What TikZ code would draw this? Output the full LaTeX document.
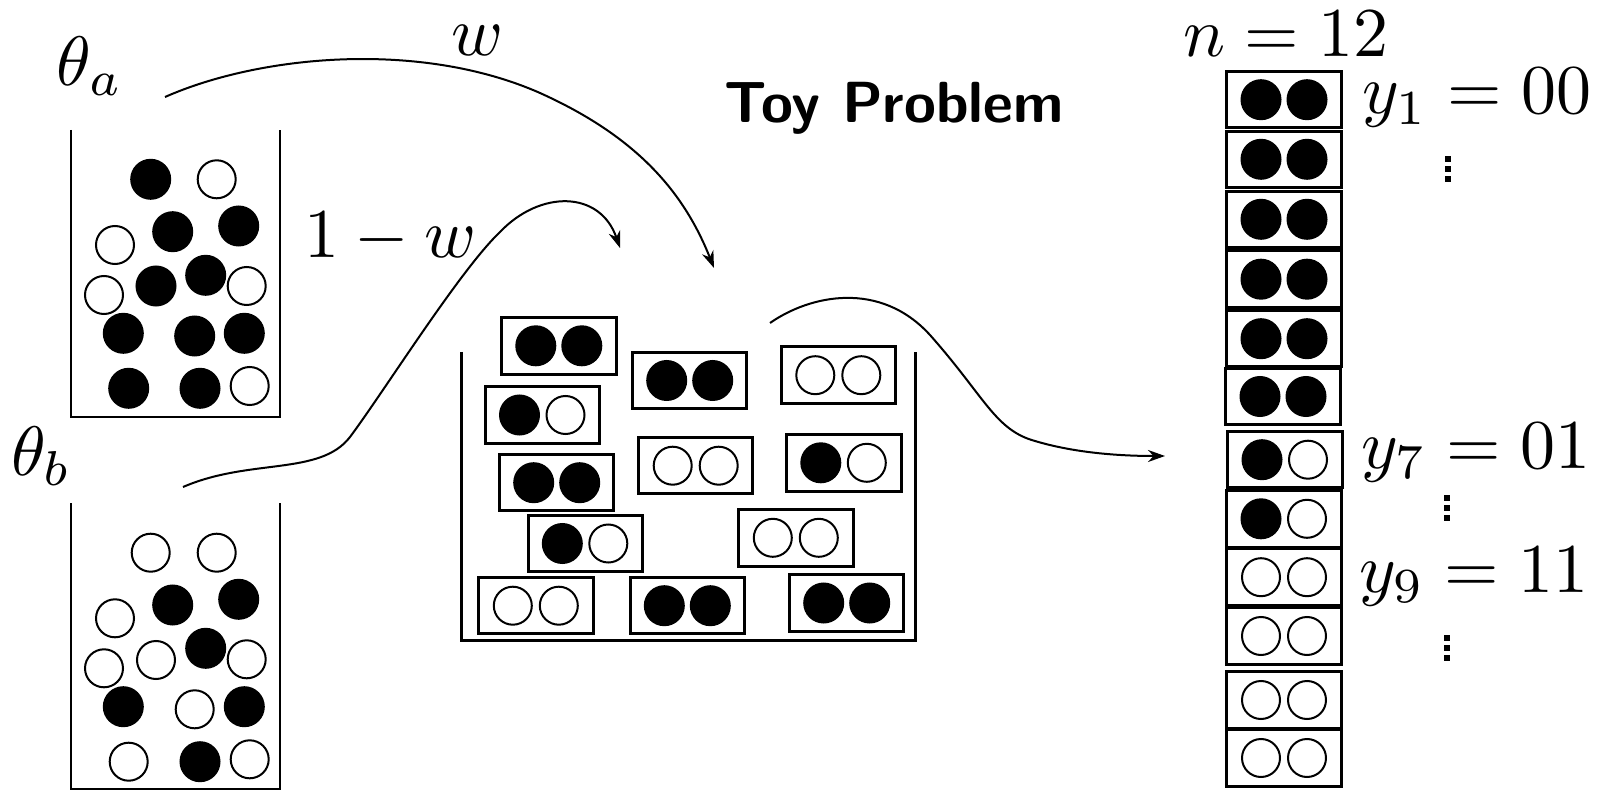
\documentclass[tikz,border=0pt]{standalone}
\usetikzlibrary{arrows.meta}

\tikzset{
  ballB/.style={circle, inner sep=0pt, minimum size=39.5pt, fill=black, draw=black, line width=1.5pt},
  ballW/.style={circle, inner sep=0pt, minimum size=38pt, fill=white, draw=black, line width=2pt},
  pbox/.style={rectangle, draw=black, line width=3pt, minimum width=114.5pt, minimum height=56.5pt, inner sep=0pt},
  jarthin/.style={line width=2pt},
  jarthick/.style={line width=3pt},
  flow/.style={line width=2pt, -{Stealth[length=17pt,width=12pt]}},
  lbl/.style={inner sep=0pt, scale=7, transform shape},
  ttl/.style={inner sep=0pt, scale=5.8, transform shape, font=\sffamily\bfseries},
  dotsq/.style={fill=black},
}

% a framed pair of balls: name, x, y, left style, right style
\newcommand\ballpair[5]{%
  \node[pbox] (#1) at (#2,#3) {};
  \node[#4] (#1l) at ([xshift=-23pt]#1.center) {};
  \node[#5] (#1r) at ([xshift=23pt]#1.center) {};
}

% three small square dots, centred at x, top dot at y
\newcommand\vdotmark[2]{%
  \fill[dotsq] (#1-3,#2-3) rectangle (#1+3,#2+3);
  \fill[dotsq] (#1-3,#2+7) rectangle (#1+3,#2+13);
  \fill[dotsq] (#1-3,#2+17) rectangle (#1+3,#2+23);
}

\begin{document}
\begin{tikzpicture}[x=1pt, y=-1pt]
\useasboundingbox (0,0) rectangle (1598,791);

% ---------- urn a ----------
\draw[jarthin] (71,130) -- (71,417) -- (280,417) -- (280,130);
\foreach \x/\y/\c [count=\i] in {
  150.7/179.3/B, 216.7/179.3/W,
  115/245/W, 172.7/231.7/B, 238.7/226/B,
  104/295/W, 156/286/B, 205.7/275.3/B, 246.7/286/W,
  123.3/333.3/B, 194.7/336/B, 244.3/333.3/B,
  128.7/388.3/B, 200/388.3/B, 249.7/386/W}
  \node[ball\c] (ua\i) at (\x,\y) {};
\node[lbl] (thetaa) at (89.5,66) {$\theta_a$};

% ---------- urn b ----------
\draw[jarthin] (71,503) -- (71,789) -- (280,789) -- (280,503);
\foreach \x/\y/\c [count=\i] in {
  150.7/552.7/W, 216.7/552.7/W,
  115/618.3/W, 172.7/605/B, 238.7/599.3/B,
  104/668.3/W, 156/660/W, 205.7/648.3/B, 246.7/659.3/W,
  123.3/706.7/B, 194.7/709.3/W, 244.3/706.7/B,
  128.7/761.7/W, 200/761.7/B, 249.7/759.3/W}
  \node[ball\c] (ub\i) at (\x,\y) {};
\node[lbl] (thetab) at (41.5,456) {$\theta_b$};

% ---------- mixed urn of pairs ----------
\draw[jarthick] (461,352) -- (461,640) -- (915,640) -- (915,352);
\ballpair{m1}{558.8}{345.8}{ballB}{ballB}
\ballpair{m2}{689.7}{380.5}{ballB}{ballB}
\ballpair{m3}{838.3}{375.2}{ballW}{ballW}
\ballpair{m4}{542.5}{415}{ballB}{ballW}
\ballpair{m5}{695.7}{465.7}{ballW}{ballW}
\ballpair{m6}{843.8}{462.8}{ballB}{ballW}
\ballpair{m7}{556.7}{482.7}{ballB}{ballB}
\ballpair{m8}{585.3}{543.5}{ballB}{ballW}
\ballpair{m9}{795.8}{537.8}{ballW}{ballW}
\ballpair{m10}{535.8}{605.7}{ballW}{ballW}
\ballpair{m11}{687.3}{605.7}{ballB}{ballB}
\ballpair{m12}{846.7}{603}{ballB}{ballB}

\node[ttl, anchor=base] (title) at (894,123) {Toy Problem};

% ---------- sample column ----------
\ballpair{s1}{1284}{99.7}{ballB}{ballB}
\ballpair{s2}{1284}{159.3}{ballB}{ballB}
\ballpair{s3}{1284}{219.3}{ballB}{ballB}
\ballpair{s4}{1284}{279.2}{ballB}{ballB}
\ballpair{s5}{1284}{338.7}{ballB}{ballB}
\ballpair{s6}{1283}{396.5}{ballB}{ballB}
\ballpair{s7}{1285}{459.7}{ballB}{ballW}
\ballpair{s8}{1284}{518.8}{ballB}{ballW}
\ballpair{s9}{1284}{577.2}{ballW}{ballW}
\ballpair{s10}{1284}{636}{ballW}{ballW}
\ballpair{s11}{1284}{700}{ballW}{ballW}
\ballpair{s12}{1284}{758}{ballW}{ballW}

\node[lbl, anchor=base] (nlab) at (1286,57) {$n=12$};
\node[lbl, anchor=base] (y1lab) at (1477,114) {$y_1=00$};
\node[lbl, anchor=base] (y7lab) at (1476,468.5) {$y_7=01$};
\node[lbl, anchor=base] (y9lab) at (1474,592.5) {$y_9=11$};
\vdotmark{1448}{159}
\vdotmark{1447}{498}
\vdotmark{1447}{638}

% ---------- connectors ----------
\coordinate (wFrom) at (165,97);
\coordinate (wTo) at (714,268);
\coordinate (vFrom) at (183,487);
\coordinate (vTo) at (620,248);
\coordinate (sFrom) at (770,323);
\coordinate (sTo) at (1165,456);

\draw[flow] (wFrom) .. controls (260,55) and (420,40) .. (540,93)
  .. controls (640,138) and (685,195) .. (wTo);
\node[lbl] (wlab) at (477,40) {$w$};

\draw[flow] (vFrom) .. controls (250,458) and (320,476) .. (350,437)
  .. controls (385,390) and (460,270) .. (500,232)
  .. controls (540,190) and (600,190) .. (vTo);
\node[lbl, anchor=base] (vlab) at (390.5,257.5) {$1-w$};

\draw[flow] (sFrom) .. controls (810,295) and (880,280) .. (930,335)
  .. controls (985,397) and (995,430) .. (1035,441)
  .. controls (1075,453) and (1120,456) .. (sTo);
\end{tikzpicture}
\end{document}
